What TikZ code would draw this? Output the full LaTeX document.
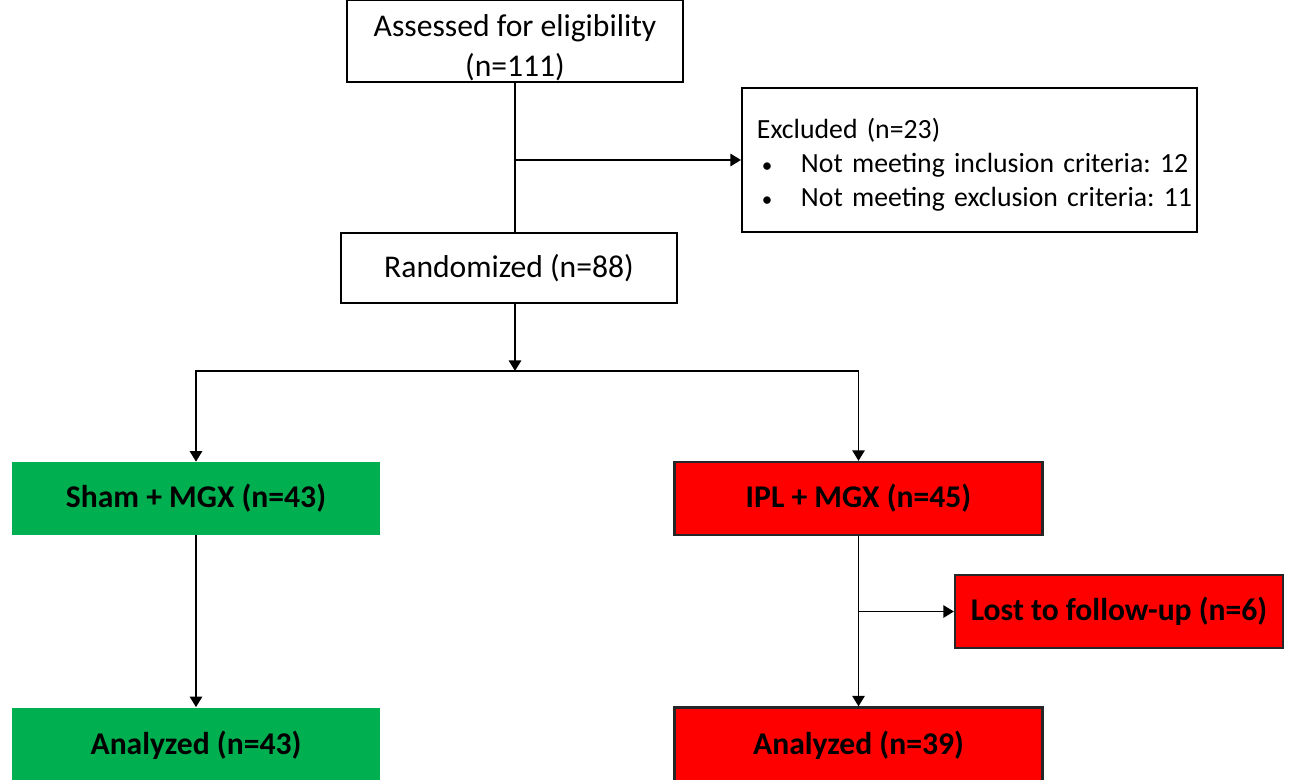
\documentclass[tikz,border=0pt]{standalone}
\usepackage{fontspec}
\setmainfont{Carlito}
\usetikzlibrary{positioning, arrows.meta, calc}
\definecolor{shamgreen}{HTML}{00B050}
\definecolor{iplred}{HTML}{FF0000}
\newcommand{\exbullet}{\makebox[0.88cm][l]{\hspace{0.1cm}{\fontsize{12}{12}\selectfont\textbullet}}}

\begin{document}
\begin{tikzpicture}[x=0.02cm, y=-0.02cm,
          box/.style={draw, line width=1.1pt, fill=white, font=\fontsize{18}{23}\selectfont, align=center, inner sep=0pt},
          arm/.style={fill=shamgreen, font=\fontsize{18}{22}\selectfont\bfseries, minimum width=7.36cm, minimum height=1.46cm, inner sep=0pt},
          ipl/.style={arm, fill=iplred, draw=black!85, line width=1.3pt},
          flow/.style={line width=1.1pt, -{Triangle[length=6pt,width=7pt]}}]
        \useasboundingbox (0,0) rectangle (1290,780);
        \node[box, minimum width=6.72cm, minimum height=1.64cm,
          label={[font=\fontsize{18}{23}\selectfont, align=center, yshift=-0.13cm]center:Assessed for eligibility\\(n=111)}] (assess) at (515,41) {};
        \node[box, anchor=west, minimum width=9.1cm, minimum height=2.88cm,
          label={[align=left, text width=8.5cm, inner sep=0pt, yshift=-0.1cm, font=\fontsize{15.8}{19.4}\selectfont\frenchspacing]center:\mbox{Excluded (n=23)}\\\mbox{\exbullet Not meeting inclusion criteria: 12}\\\mbox{\exbullet Not meeting exclusion criteria: 11}}] (excl) at (741,160) {};
        \node[box, minimum width=6.72cm, minimum height=1.4cm] (rand) at (509,268) {Randomized (n=88)};
        \coordinate (split) at (515,371);
        \node[arm] (sham) at (196,498.5) {Sham + MGX (n=43)};
        \node[ipl] (ipl) at (858.5,498.5) {IPL + MGX (n=45)};
        \node[ipl, minimum width=6.56cm] (lost) at (1119,611.5) {Lost to follow-up (n=6)};
        \node[arm, minimum height=1.5cm] (shamout) at (196,745) {Analyzed (n=43)};
        \node[ipl, minimum height=1.5cm] (iplout) at (858.5,745) {Analyzed (n=39)};
        \draw[line width=1.1pt] (assess.south) -- (assess.south |- rand.north);
        \draw[flow] (assess.south |- excl.west) -- (excl.west);
        \draw[flow] (assess.south |- rand.south) -- (split);
        \draw[flow] (split) -| (sham.north);
        \draw[flow] (split) -| (ipl.north);
        \draw[flow] (sham.south) -- (shamout.north);
        \draw[flow] (ipl.south) -- (iplout.north);
        \draw[flow] (ipl.south |- lost.west) -- (lost.west);
      \end{tikzpicture}
\end{document}
